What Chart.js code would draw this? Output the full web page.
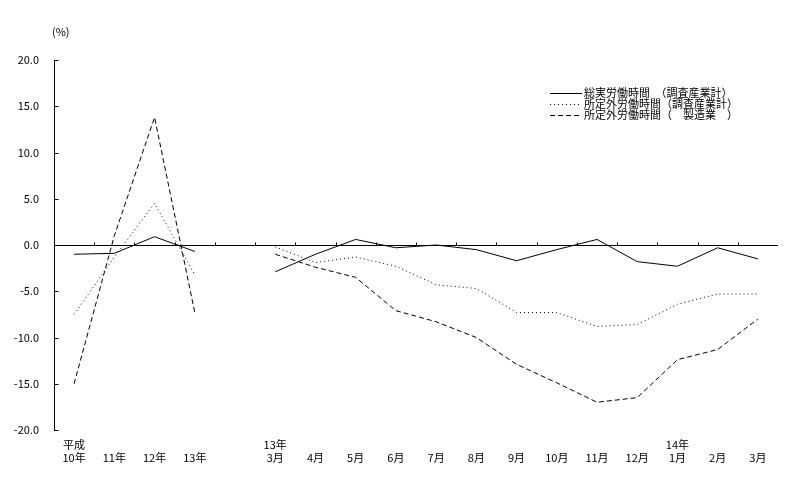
<!DOCTYPE html>
<html>
<head>
<meta charset="utf-8">
<script src="https://cdn.jsdelivr.net/npm/chart.js@4/dist/chart.umd.min.js"></script>
<style>
  body { margin: 0; background: #fff; }
  #wrap { width: 802px; height: 478px; }
</style>
</head>
<body>
<div id="wrap"><canvas id="myChart"></canvas></div>
<script>
// x categories: [upper line, lower line]
const yearLabels = ['平成', '', '', '', '', '13年', '', '', '', '', '', '', '', '', '', '14年', '', ''];
const periodLabels = ['10年', '11年', '12年', '13年', '', '3月', '4月', '5月', '6月', '7月', '8月', '9月', '10月', '11月', '12月', '1月', '2月', '3月'];

// 前年比 (%)
const totalHours = [-1.0, -0.9, 0.9, -0.7, null, -2.9, -1.0, 0.6, -0.3, 0.0, -0.5, -1.7, -0.5, 0.6, -1.8, -2.3, -0.3, -1.5];
const overtimeAll = [-7.5, -1.3, 4.5, -3.2, null, -0.2, -1.9, -1.3, -2.3, -4.3, -4.7, -7.3, -7.3, -8.8, -8.6, -6.4, -5.3, -5.3];
const overtimeMfg = [-15.0, 1.0, 13.8, -7.3, null, -1.0, -2.4, -3.5, -7.1, -8.3, -10.0, -12.9, -14.9, -17.0, -16.5, -12.4, -11.3, -8.0];

const seriesNames = ['総実労働時間　（調査産業計）', '所定外労働時間（調査産業計）', '所定外労働時間（　製造業　）'];
const yTicks = [20, 15, 10, 5, 0, -5, -10, -15, -20];

const FONT = '"MS Gothic", "Noto Sans CJK JP", sans-serif';

const labels = periodLabels.map((p, i) => [yearLabels[i], p]);

const makeLine = (label, data, dash) => ({
  label: label,
  data: data,
  borderColor: '#000',
  backgroundColor: '#000',
  borderWidth: 1,
  borderDash: dash,
  pointRadius: 0,
  tension: 0,
  spanGaps: false
});

// zero line, tick marks, axis, unit and legend
const decorations = {
  id: 'decorations',
  afterDraw(chart) {
    const ctx = chart.ctx;
    const area = chart.chartArea;
    const x = chart.scales.x;
    const y = chart.scales.y;
    ctx.save();
    ctx.strokeStyle = '#000';
    ctx.lineWidth = 1;
    ctx.setLineDash([]);

    // y axis line
    const ax = Math.round(area.left) + 0.5;
    ctx.beginPath();
    ctx.moveTo(ax, Math.round(y.getPixelForValue(20)));
    ctx.lineTo(ax, Math.round(y.getPixelForValue(-20)) + 1);
    ctx.stroke();

    // y ticks pointing inward
    yTicks.forEach(v => {
      const py = Math.round(y.getPixelForValue(v)) + 0.5;
      ctx.beginPath();
      ctx.moveTo(ax, py);
      ctx.lineTo(ax + 4, py);
      ctx.stroke();
    });

    // zero line with ticks at category boundaries
    const zy = Math.round(y.getPixelForValue(0)) + 0.5;
    ctx.beginPath();
    ctx.moveTo(ax, zy);
    ctx.lineTo(Math.round(area.right), zy);
    ctx.stroke();
    for (let i = 1; i < periodLabels.length; i++) {
      const bx = Math.round((x.getPixelForValue(i - 1) + x.getPixelForValue(i)) / 2) + 0.5;
      ctx.beginPath();
      ctx.moveTo(bx, zy);
      ctx.lineTo(bx, zy - 3);
      ctx.stroke();
    }

    // unit
    ctx.fillStyle = '#000';
    ctx.font = '11px ' + FONT;
    ctx.textBaseline = 'middle';
    ctx.textAlign = 'left';
    ctx.fillText('(%)', 52, 32);

    // legend
    const lx = 550, ly = 93, step = 11;
    chart.data.datasets.forEach((ds, i) => {
      const py = ly + i * step + 0.5;
      ctx.setLineDash(ds.borderDash || []);
      ctx.beginPath();
      ctx.moveTo(lx, py);
      ctx.lineTo(lx + 32, py);
      ctx.stroke();
      ctx.setLineDash([]);
      ctx.fillText(ds.label, lx + 34, py - 1);
    });
    ctx.restore();
  }
};

const ctx = document.getElementById('myChart').getContext('2d');
const myChart = new Chart(ctx, {
  type: 'line',
  data: {
    labels: labels,
    datasets: [
      makeLine(seriesNames[0], totalHours, []),
      makeLine(seriesNames[1], overtimeAll, [1, 3]),
      makeLine(seriesNames[2], overtimeMfg, [5, 3])
    ]
  },
  options: {
    responsive: true,
    maintainAspectRatio: false,
    animation: false,
    layout: { padding: { top: 60, right: 24, bottom: 0, left: 0 } },
    plugins: {
      legend: { display: false },
      tooltip: { enabled: false }
    },
    scales: {
      x: {
        offset: true,
        grid: { display: false, drawTicks: false },
        border: { display: false },
        ticks: {
          color: '#000',
          font: { family: FONT, size: 11, lineHeight: 1.2 },
          padding: 8,
          maxRotation: 0,
          autoSkip: false
        },
        afterFit: (scale) => { scale.height = 48; }
      },
      y: {
        min: -20,
        max: 20,
        grid: { display: false, drawTicks: false },
        border: { display: false },
        afterBuildTicks: (scale) => { scale.ticks = yTicks.map(v => ({ value: v })); },
        ticks: {
          color: '#000',
          font: { family: FONT, size: 11 },
          padding: 15,
          callback: (v) => v.toFixed(1)
        },
        afterFit: (scale) => { scale.width = 54; }
      }
    }
  },
  plugins: [decorations]
});
</script>
</body>
</html>
